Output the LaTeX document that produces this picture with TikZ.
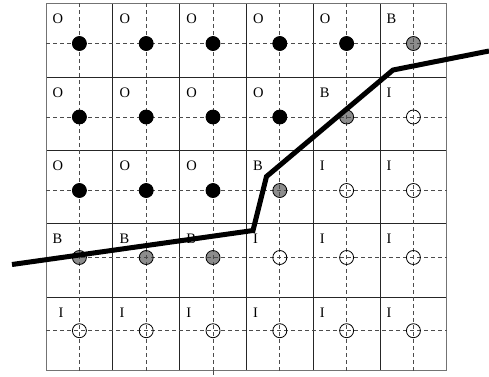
\documentclass[tikz,border=0pt]{standalone}
\usepackage{fontspec}
\setmainfont{Liberation Serif}
\definecolor{colO}{gray}{0}
\definecolor{colB}{gray}{0.55}
\definecolor{colI}{gray}{1}
\begin{document}
\begin{tikzpicture}[x=1pt,y=-1pt,
  gridline/.style={line width=1pt, black!85},
  border/.style={line width=1pt, black!55},
  dsh/.style={line width=0.9pt, black!70, dash pattern=on 4pt off 3pt},
  dotnode/.style={circle, minimum size=14pt, inner sep=0pt, draw=none},
  dotring/.style={line width=0.8pt, black},
  lbl/.style={anchor=west, inner sep=0pt, font=\fontsize{14.5}{16}\selectfont},
  cut/.style={line width=5pt, black, line join=miter}]
\useasboundingbox (0,0) rectangle (489,376);
\def\xs{{46,112.8,179.6,246.4,313.2,380,446.8}}
\def\ys{{3,77,150.5,223.5,297,370.5}}
\def\dy{{43.5,117,190.5,257.5,330.7}}
% grid
\foreach \i in {1,...,5}{
  \pgfmathsetmacro\gx{\xs[\i]}
  \draw[gridline] (\gx,3) -- (\gx,370.5);
}
\foreach \j in {1,...,4}{
  \pgfmathsetmacro\gy{\ys[\j]}
  \draw[gridline] (46,\gy) -- (446.8,\gy);
}
\draw[border] (46,3) rectangle (446.8,370.5);
% dot fills and labels
\foreach \row [count=\r] in {{O,O,O,O,O,B},{O,O,O,O,B,I},{O,O,O,B,I,I},{B,B,B,I,I,I},{I,I,I,I,I,I}}{
  \foreach \L [count=\c] in \row {
    \pgfmathsetmacro\px{\xs[\c-1]+33.4}
    \pgfmathsetmacro\py{\dy[\r-1]}
    \pgfmathsetmacro\tx{\xs[\c-1]+ifthenelse(and(\r==5,\c==1),12.5,6.5)}
    \pgfmathsetmacro\ty{\ys[\r-1]+15.5}
    \node[dotnode, fill=col\L] (d-\r-\c) at (\px,\py) {};
    \node[lbl] (t-\r-\c) at (\tx,\ty) {\L};
  }
}
% dashed lines
\foreach \c in {1,...,6}{
  \pgfmathsetmacro\px{\xs[\c-1]+33.4}
  \draw[dsh] (\px,3) -- (\px,370.5);
}
\draw[dsh] (213,370.5) -- (213,376);
\foreach \r in {1,...,5}{
  \pgfmathsetmacro\py{\dy[\r-1]}
  \draw[dsh] (46,\py) -- (446.8,\py);
}
% solid black dots over the dashed lines
\foreach \r/\n in {1/5,2/4,3/3}{
  \foreach \c in {1,...,\n}{
    \fill[black] (d-\r-\c.center) circle (7pt);
  }
}
% dot outlines
\foreach \r in {1,...,5}{
  \foreach \c in {1,...,6}{
    \draw[dotring] (d-\r-\c.center) circle (7pt);
  }
}
% cut line
\coordinate (p1) at (12,264.5);
\coordinate (p2) at (253,230.5);
\coordinate (p3) at (266.5,176.5);
\coordinate (p4) at (393,70);
\coordinate (p5) at (489,51);
\draw[cut] (p1) -- (p2) -- (p3) -- (p4) -- (p5);
\end{tikzpicture}
\end{document}
